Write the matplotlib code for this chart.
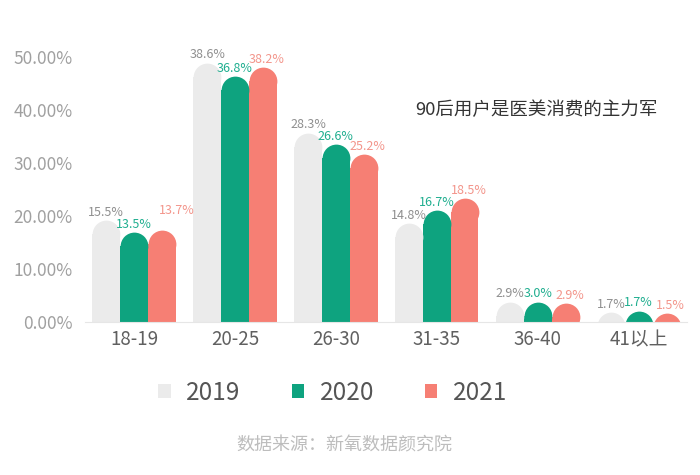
import matplotlib
matplotlib.use("Agg")
import matplotlib.pyplot as plt
import numpy as np

plt.rcParams['font.family'] = ['Noto Sans CJK SC', 'DejaVu Sans']

age_groups = ["18-19", "20-25", "26-30", "31-35", "36-40", "41以上"]
years = ["2019", "2020", "2021"]

# bar heights as drawn on the axis (percent)
h2019 = [19.2, 48.9, 35.7, 18.7, 3.8, 1.9]
h2020 = [17.0, 46.4, 33.6, 21.1, 3.8, 2.1]
h2021 = [17.4, 48.1, 31.7, 23.4, 3.6, 1.7]

# printed value labels (percent)
v2019 = [15.5, 38.6, 28.3, 14.8, 2.9, 1.7]
v2020 = [13.5, 36.8, 26.6, 16.7, 3.0, 1.7]
v2021 = [13.7, 38.2, 25.2, 18.5, 2.9, 1.5]

bar_colors = ["#ebebeb", "#0ea37f", "#f67f74"]
label_colors = ["#8f8f8f", "#1fae8f", "#f3958b"]

fig = plt.figure(figsize=(7, 4.75), dpi=100)
ax = fig.add_axes([0.1214, 0.3221, 0.8596, 0.5802])

ymax = 52
ax.set_ylim(0, ymax)
ax.set_xlim(-0.485, 5.475)

width = 0.275
x = np.arange(len(age_groups))

# size of the rounded cap
axes_h_px = 0.5802 * 475
axes_w_px = 0.8596 * 700
bar_px = width * axes_w_px / (5.475 + 0.485)
r_data = (bar_px / 2) * ymax / axes_h_px
marker_pt = bar_px * 72 / 100

handles = []
for i, (heights, vals) in enumerate(zip([h2019, h2020, h2021], [v2019, v2020, v2021])):
    xs = x + (i - 1) * width
    body = [max(h - r_data, 0) for h in heights]
    bars = ax.bar(xs, body, width=width, color=bar_colors[i], linewidth=0,
                  label=years[i])
    ax.plot(xs, [h - r_data for h in heights], "o", color=bar_colors[i],
            markersize=marker_pt, markeredgewidth=0)
    handles.append(bars)
    for j, (xi, h, v) in enumerate(zip(xs, heights, vals)):
        dx = 3 if i == 2 else 0
        dy = 1
        if i == 2 and j == 0:
            dx, dy = 11, 9
        ax.annotate(f"{v:.1f}%", (xi, h), xytext=(dx, dy), textcoords="offset points",
                    ha="center", va="bottom", fontsize=9, color=label_colors[i])

ax.set_yticks([0, 10, 20, 30, 40, 50])
ax.set_yticklabels([f"{t:.2f}%" for t in [0, 10, 20, 30, 40, 50]],
                   fontsize=12.5, color="#a0a0a0")
ax.set_xticks(x)
ax.set_xticklabels(age_groups, fontsize=13.5, color="#606060")
ax.tick_params(axis="y", length=0, pad=9)
ax.tick_params(axis="x", length=0, pad=5)
for s in ["top", "right", "left"]:
    ax.spines[s].set_visible(False)
ax.spines["bottom"].set_color("#e6e6e6")
ax.spines["bottom"].set_linewidth(0.8)

fig.text(415 / 700, 1 - 110 / 475, "90后用户是医美消费的主力军",
         fontsize=13.3, color="#333333", va="center", ha="left")

fig.legend(handles=handles, labels=years, loc="center",
           bbox_to_anchor=(333 / 700, 1 - 393 / 475), ncol=3, frameon=False,
           fontsize=17.5, handlelength=0.5, handleheight=0.5,
           handletextpad=0.65, columnspacing=2.1, labelcolor="#555555")

fig.text(344 / 700, 1 - 446 / 475, "数据来源：新氧数据颜究院",
         fontsize=13, color="#bdbdbd", ha="center", va="center")

fig.savefig("out.png", dpi=100)
